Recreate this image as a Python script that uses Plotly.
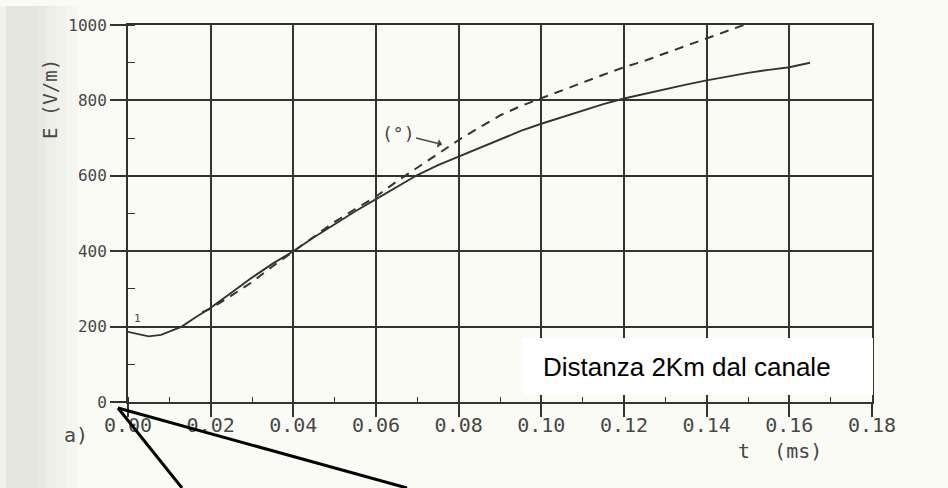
import plotly.graph_objects as go

# Electric field E (V/m) versus time t (ms), distance 2 km from the channel
t_meas = [0.000, 0.003, 0.005, 0.008, 0.010, 0.013, 0.016, 0.020, 0.025, 0.030,
          0.035, 0.040, 0.045, 0.050, 0.055, 0.060, 0.065, 0.070, 0.075, 0.080,
          0.085, 0.090, 0.095, 0.100, 0.105, 0.110, 0.115, 0.120, 0.125, 0.130,
          0.135, 0.140, 0.145, 0.150, 0.155, 0.160, 0.165]
e_meas = [186, 178, 174, 178, 186, 200, 222, 250, 290, 330,
          367, 400, 437, 472, 506, 538, 571, 602, 628, 651,
          675, 698, 719, 738, 756, 774, 790, 805, 818, 830,
          842, 853, 864, 873, 881, 888, 900]

t_model = [0.018, 0.020, 0.025, 0.030, 0.035, 0.040, 0.045, 0.050, 0.055, 0.060,
           0.065, 0.070, 0.075, 0.080, 0.085, 0.090, 0.095, 0.100, 0.105, 0.110,
           0.115, 0.120, 0.125, 0.130, 0.135, 0.140, 0.145, 0.149]
e_model = [238, 248, 282, 318, 360, 400, 440, 478, 512, 545,
           585, 622, 660, 695, 728, 760, 785, 806, 828, 848,
           868, 888, 905, 925, 945, 963, 983, 1000]

x_ticks = [0.00, 0.02, 0.04, 0.06, 0.08, 0.10, 0.12, 0.14, 0.16, 0.18]
x_labels = ["0.00", "0.02", "0.04", "0.06", "0.08", "0.10", "0.12", "0.14", "0.16", "0.18"]
y_ticks = [0, 200, 400, 600, 800, 1000]
y_labels = ["0", "200", "400", "600", "800", "1000"]

W, H = 948, 488
ML, MR, MT, MB = 128, 76, 25, 86
PW, PH = W - ML - MR, H - MT - MB


def px(x, y):
    """Pixel position on the page -> paper coordinates."""
    return (x - ML) / PW, (H - MB - y) / PH


INK = "#333333"
PRINT = "#474747"
MONO = "DejaVu Sans Mono"
PAGE = "#fbfbf6"

fig = go.Figure()
fig.add_trace(go.Scatter(x=t_meas, y=e_meas, mode="lines",
                         line=dict(color=INK, width=1.9), hoverinfo="skip"))
fig.add_trace(go.Scatter(x=t_model, y=e_model, mode="lines",
                         line=dict(color=INK, width=2, dash="9px,7px"), hoverinfo="skip"))

shapes = []
# binding shadow on the left edge of the page
for x0, x1, col in [(0, 6, "#f2f2ed"), (6, 38, "#e6e6e0"), (38, 46, "#e9e9e3"),
                    (46, 56, "#eeeee9"), (56, 66, "#f2f2ed"), (66, 78, "#f6f6f1")]:
    a, b = px(x0, 0)[0], px(x1, 0)[0]
    shapes.append(dict(type="rect", xref="paper", yref="paper", x0=a, x1=b,
                       y0=px(0, H)[1], y1=px(0, 6)[1], fillcolor=col,
                       line=dict(width=0), layer="below"))
# white label box
bx0, by0 = px(522, 395)
bx1, by1 = px(873, 338)
shapes.append(dict(type="rect", xref="paper", yref="paper", x0=bx0, x1=bx1,
                   y0=by0, y1=by1, fillcolor="white", line=dict(width=0), layer="above"))
# callout lines from the origin
for end in [(182, 488), (407, 488)]:
    sx, sy = px(118, 408)
    ex, ey = px(*end)
    shapes.append(dict(type="line", xref="paper", yref="paper", x0=sx, y0=sy,
                       x1=ex, y1=ey, line=dict(color="black", width=3), layer="above"))


def page_text(text, x, y, size, angle=0, family=MONO, color=PRINT):
    px_, py_ = px(x, y)
    return dict(text=text, xref="paper", yref="paper", x=px_, y=py_,
                xanchor="center", yanchor="middle", textangle=angle,
                showarrow=False, font=dict(family=family, size=size, color=color))


annotations = [
    page_text("E (V/m)", 50, 99, 19, angle=-90),
    page_text("t  (ms)", 780, 451, 20),
    page_text("a)", 76, 435, 20),
]
tx, ty = px(541, 367)
annotations.append(dict(text="Distanza 2Km dal canale", xref="paper", yref="paper",
                        x=tx, y=ty, xanchor="left", yanchor="middle", showarrow=False,
                        font=dict(family="Liberation Sans", size=26, color="black")))
annotations.append(dict(text="(°)", x=0.076, y=683, ax=-44, ay=-11,
                        showarrow=True, arrowhead=1, arrowsize=1,
                        arrowwidth=1.5, arrowcolor=PRINT,
                        font=dict(family=MONO, size=18, color=PRINT)))
annotations.append(dict(text="1", x=0.0022, y=222, showarrow=False,
                        font=dict(family=MONO, size=11, color=PRINT)))

fig.update_layout(
    width=W, height=H,
    margin=dict(l=ML, r=MR, t=MT, b=MB),
    paper_bgcolor=PAGE, plot_bgcolor=PAGE,
    showlegend=False,
    shapes=shapes, annotations=annotations,
)
fig.update_xaxes(
    range=[0, 0.18], tickvals=x_ticks, ticktext=x_labels,
    showgrid=True, gridcolor=INK, gridwidth=1.6,
    showline=True, linecolor=INK, linewidth=2, mirror=True,
    ticks="outside", ticklen=13, tickwidth=1.6, tickcolor=INK,
    ticklabelstandoff=-9,
    tickfont=dict(family=MONO, size=20, color=PRINT),
    minor=dict(ticks="inside", ticklen=5, tickwidth=1.4, tickcolor=INK, dtick=0.01, tick0=0, showgrid=False),
    zeroline=False,
)
fig.update_yaxes(
    range=[0, 1000], tickvals=y_ticks, ticktext=y_labels,
    showgrid=True, gridcolor=INK, gridwidth=1.6,
    showline=True, linecolor=INK, linewidth=2, mirror=True,
    ticks="outside", ticklen=16, tickwidth=1.6, tickcolor=INK,
    tickfont=dict(family=MONO, size=16, color=PRINT),
    minor=dict(ticks="inside", ticklen=7, tickwidth=1.4, tickcolor=INK, dtick=100, tick0=0, showgrid=False),
    zeroline=False,
)

fig.write_html("out.html")
